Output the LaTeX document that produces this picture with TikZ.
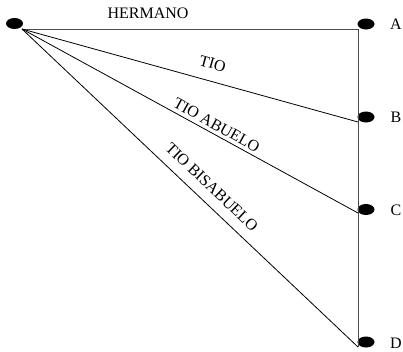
\documentclass[tikz,border=0pt]{standalone}
\usepackage{fontspec}
\setmainfont{Liberation Serif}
\usetikzlibrary{shapes.geometric}
\begin{document}
\begin{tikzpicture}[x=0.75pt,y=-0.75pt,
  dot/.style={ellipse, fill=black, minimum width=12.75pt, minimum height=8.25pt, inner sep=0pt},
  conn/.style={line width=0.6pt, black},
  frame/.style={line width=0.6pt, black!70},
  lbl/.style={font=\fontsize{12}{14}\selectfont, inner sep=0pt, text=black}]
\useasboundingbox (0,0) rectangle (403,351);
% line end points
\coordinate (o) at (22,29);
\coordinate (a) at (358,29);
\coordinate (b) at (358,122);
\coordinate (c) at (358,213);
\coordinate (d) at (358,347);
% dots
\node[dot] (O) at (14.5,23.5) {};
\node[dot] (A) at (366,24) {};
\node[dot] (B) at (366,117) {};
\node[dot] (C) at (366,209.5) {};
\node[dot] (D) at (366,342) {};
% letters
\node[lbl] (lA) at (396,24) {A};
\node[lbl] (lB) at (396,117) {B};
\node[lbl] (lC) at (396,210) {C};
\node[lbl] (lD) at (396,343) {D};
% connectors
\draw[frame] (o) -- node[lbl, pos=0.375, above=7.3pt] (lh) {HERMANO} (a);
\draw[frame] (a) -- (d);
\draw[conn] (o) -- node[lbl, sloped, pos=0.5535, above=8.8pt] (lt) {TIO} (b);
\draw[conn] (o) -- node[lbl, sloped, pos=0.5663, above=2.6pt] (lta) {TIO ABUELO} (c);
\draw[conn] (o) -- node[lbl, sloped, pos=0.533, above=7.4pt] (ltb) {TIO BISABUELO} (d);
\end{tikzpicture}
\end{document}
